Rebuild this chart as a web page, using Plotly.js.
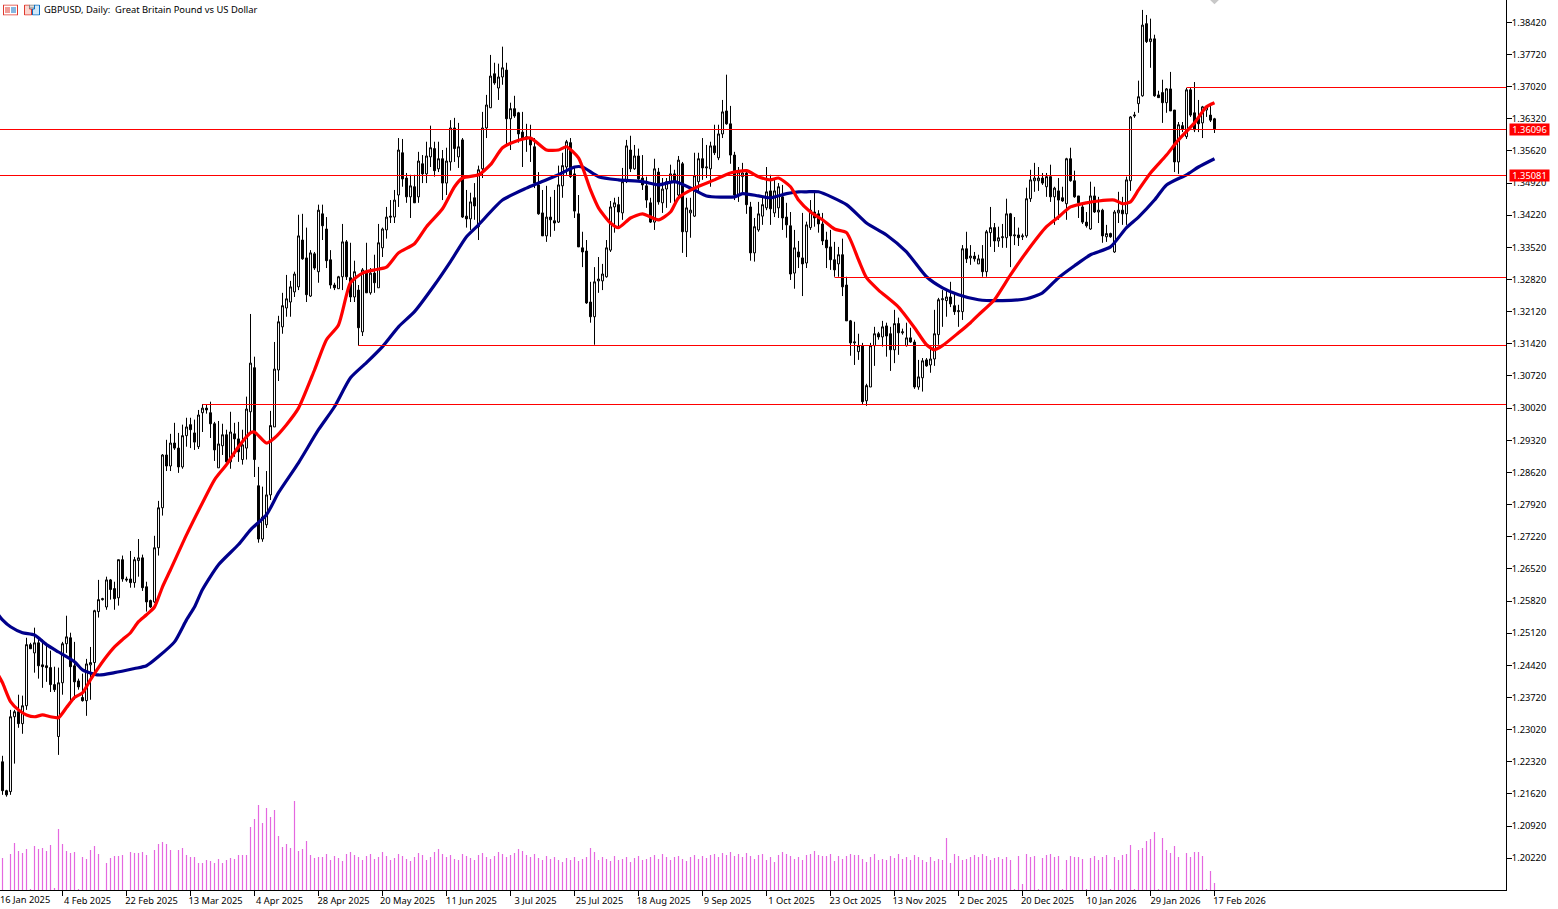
<!DOCTYPE html>
<html>
<head>
<meta charset="utf-8">
<title>GBPUSD Daily</title>
<script src="https://cdn.plot.ly/plotly-3.0.1.min.js"></script>
<style>
  html, body { margin: 0; padding: 0; background: #fff; overflow: hidden; }
  #chart { width: 1558px; height: 909px; }
</style>
</head>
<body>
<div id="chart"></div>
<script>
// daily bars, oldest first
const opens = [
  1.2232,1.2169,1.2167,1.2330,1.2341,1.2315,1.2354,1.2487,1.2469,1.2491,
  1.2443,1.2441,1.2437,1.2400,1.2287,1.2404,1.2489,1.2502,1.2441,1.2408,
  1.2372,1.2365,1.2443,1.2448,1.2559,1.2585,1.2569,1.2628,1.2609,1.2589,
  1.2672,1.2630,1.2630,1.2622,1.2670,1.2676,1.2613,1.2583,1.2580,1.2698,
  1.2785,1.2900,1.2876,1.2926,1.2915,1.2874,1.2942,1.2966,1.2948,1.2918,
  1.2992,1.3002,1.2992,1.2968,1.2872,1.2920,1.2944,1.2885,1.2946,1.2935,
  1.2890,1.2915,1.2994,1.3090,1.2833,1.2717,1.2748,1.2813,1.2961,1.3085,
  1.3179,1.3220,1.3233,1.3255,1.3266,1.3368,1.3329,1.3246,1.3338,1.3299,
  1.3425,1.3392,1.3325,1.3270,1.3262,1.3288,1.3364,1.3286,1.3244,1.3259,
  1.3168,1.3296,1.3253,1.3296,1.3264,1.3351,1.3390,1.3420,1.3418,1.3466,
  1.3558,1.3503,1.3462,1.3484,1.3462,1.3534,1.3512,1.3549,1.3567,1.3523,
  1.3545,1.3492,1.3538,1.3612,1.3549,1.3586,1.3420,1.3414,1.3460,1.3397,
  1.3523,1.3612,1.3656,1.3730,1.3699,1.3723,1.3738,1.3632,1.3654,1.3645,
  1.3603,1.3593,1.3590,1.3571,1.3488,1.3427,1.3377,1.3418,1.3410,1.3407,
  1.3486,1.3527,1.3580,1.3512,1.3425,1.3351,1.3344,1.3233,1.3201,1.3279,
  1.3279,1.3288,1.3346,1.3440,1.3445,1.3427,1.3495,1.3564,1.3523,1.3551,
  1.3503,1.3486,1.3449,1.3407,1.3516,1.3449,1.3479,1.3495,1.3512,1.3466,
  1.3534,1.3386,1.3427,1.3420,1.3495,1.3545,1.3525,1.3523,1.3573,1.3547,
  1.3599,1.3649,1.3621,1.3553,1.3466,1.3506,1.3514,1.3440,1.3340,1.3390,
  1.3420,1.3438,1.3475,1.3427,1.3438,1.3462,1.3418,1.3399,1.3296,1.3342,
  1.3329,1.3318,1.3395,1.3429,1.3425,1.3403,1.3368,1.3353,1.3325,1.3316,
  1.3336,1.3270,1.3192,1.3144,1.3125,1.3138,1.3018,1.3048,1.3138,1.3164,
  1.3157,1.3181,1.3164,1.3129,1.3186,1.3166,1.3138,1.3155,1.3146,1.3048,
  1.3068,1.3107,1.3096,1.3109,1.3162,1.3238,1.3236,1.3244,1.3225,1.3212,
  1.3212,1.3349,1.3329,1.3333,1.3316,1.3327,1.3299,1.3384,1.3395,1.3366,
  1.3373,1.3373,1.3425,1.3377,1.3379,1.3375,1.3377,1.3458,1.3497,1.3497,
  1.3503,1.3484,1.3506,1.3462,1.3475,1.3460,1.3447,1.3545,1.3497,1.3464,
  1.3440,1.3407,1.3392,1.3464,1.3429,1.3433,1.3375,1.3382,1.3342,1.3427,
  1.3433,1.3425,1.3497,1.3638,1.3665,1.3682,1.3839,1.3800,1.3806,1.3684,
  1.3689,1.3667,1.3697,1.3651,1.3538,1.3617,1.3593,1.3695,1.3645,1.3634,
  1.3623,1.3651,1.3640,1.3632
];
const highs = [
  1.2245,1.2171,1.2345,1.2345,1.2378,1.2376,1.2502,1.2491,1.2524,1.2502,
  1.2498,1.2491,1.2474,1.2439,1.2437,1.2493,1.2550,1.2513,1.2493,1.2413,
  1.2424,1.2456,1.2482,1.2563,1.2628,1.2589,1.2635,1.2630,1.2624,1.2672,
  1.2681,1.2635,1.2691,1.2678,1.2717,1.2683,1.2624,1.2585,1.2724,1.2800,
  1.2902,1.2933,1.2946,1.2970,1.2948,1.2966,1.2981,1.2981,1.2977,1.2998,
  1.3011,1.3011,1.3016,1.2972,1.2974,1.2968,1.2955,1.2994,1.2970,1.2972,
  1.2955,1.3027,1.3207,1.3114,1.2874,1.2831,1.2865,1.2996,1.3146,1.3203,
  1.3253,1.3292,1.3279,1.3299,1.3423,1.3425,1.3395,1.3346,1.3342,1.3445,
  1.3445,1.3418,1.3346,1.3275,1.3290,1.3403,1.3368,1.3362,1.3323,1.3270,
  1.3307,1.3362,1.3307,1.3336,1.3403,1.3395,1.3440,1.3455,1.3477,1.3590,
  1.3588,1.3514,1.3510,1.3510,1.3560,1.3553,1.3582,1.3617,1.3582,1.3582,
  1.3564,1.3569,1.3629,1.3634,1.3623,1.3590,1.3477,1.3471,1.3492,1.3530,
  1.3647,1.3684,1.3771,1.3754,1.3752,1.3789,1.3754,1.3667,1.3682,1.3647,
  1.3647,1.3621,1.3619,1.3590,1.3516,1.3477,1.3486,1.3462,1.3477,1.3530,
  1.3558,1.3586,1.3590,1.3527,1.3466,1.3386,1.3368,1.3277,1.3309,1.3331,
  1.3316,1.3368,1.3453,1.3460,1.3462,1.3525,1.3586,1.3595,1.3575,1.3567,
  1.3553,1.3506,1.3460,1.3545,1.3525,1.3503,1.3503,1.3532,1.3521,1.3551,
  1.3538,1.3460,1.3460,1.3558,1.3558,1.3590,1.3575,1.3582,1.3619,1.3619,
  1.3673,1.3728,1.3660,1.3560,1.3527,1.3536,1.3521,1.3451,1.3416,1.3451,
  1.3462,1.3527,1.3510,1.3503,1.3492,1.3488,1.3449,1.3429,1.3390,1.3366,
  1.3427,1.3408,1.3455,1.3471,1.3433,1.3427,1.3386,1.3390,1.3364,1.3353,
  1.3371,1.3288,1.3194,1.3190,1.3164,1.3144,1.3055,1.3144,1.3179,1.3168,
  1.3192,1.3188,1.3179,1.3216,1.3199,1.3175,1.3188,1.3177,1.3151,1.3107,
  1.3111,1.3111,1.3133,1.3216,1.3242,1.3259,1.3259,1.3277,1.3253,1.3227,
  1.3357,1.3386,1.3357,1.3342,1.3336,1.3357,1.3390,1.3440,1.3405,1.3397,
  1.3403,1.3458,1.3427,1.3418,1.3395,1.3382,1.3482,1.3521,1.3536,1.3527,
  1.3514,1.3514,1.3532,1.3484,1.3503,1.3484,1.3547,1.3569,1.3519,1.3464,
  1.3445,1.3429,1.3495,1.3484,1.3462,1.3436,1.3401,1.3384,1.3433,1.3473,
  1.3462,1.3506,1.3638,1.3647,1.3715,1.3869,1.3858,1.3850,1.3815,1.3693,
  1.3717,1.3699,1.3734,1.3651,1.3625,1.3625,1.3699,1.3699,1.3712,1.3673,
  1.3660,1.3660,1.3662,1.3634
];
const lows = [
  1.2160,1.2156,1.2160,1.2228,1.2306,1.2293,1.2345,1.2478,1.2426,1.2413,
  1.2393,1.2406,1.2384,1.2384,1.2247,1.2378,1.2469,1.2363,1.2367,1.2389,
  1.2363,1.2332,1.2367,1.2426,1.2546,1.2583,1.2563,1.2585,1.2563,1.2572,
  1.2624,1.2624,1.2611,1.2611,1.2635,1.2604,1.2559,1.2567,1.2578,1.2681,
  1.2768,1.2865,1.2865,1.2911,1.2861,1.2870,1.2918,1.2915,1.2911,1.2913,
  1.2950,1.2990,1.2937,1.2887,1.2872,1.2900,1.2879,1.2870,1.2896,1.2885,
  1.2879,1.2890,1.2948,1.2852,1.2709,1.2711,1.2741,1.2802,1.2961,1.3061,
  1.3164,1.3201,1.3201,1.3244,1.3259,1.3325,1.3233,1.3244,1.3303,1.3275,
  1.3368,1.3307,1.3262,1.3259,1.3262,1.3259,1.3281,1.3233,1.3233,1.3138,
  1.3159,1.3253,1.3249,1.3253,1.3264,1.3331,1.3371,1.3405,1.3405,1.3440,
  1.3484,1.3449,1.3416,1.3449,1.3449,1.3492,1.3492,1.3527,1.3506,1.3516,
  1.3455,1.3466,1.3519,1.3538,1.3525,1.3416,1.3395,1.3390,1.3412,1.3368,
  1.3503,1.3590,1.3656,1.3706,1.3673,1.3706,1.3575,1.3564,1.3634,1.3580,
  1.3527,1.3560,1.3538,1.3481,1.3423,1.3377,1.3364,1.3375,1.3388,1.3405,
  1.3460,1.3510,1.3503,1.3416,1.3353,1.3309,1.3229,1.3188,1.3140,1.3253,
  1.3259,1.3286,1.3342,1.3384,1.3397,1.3412,1.3492,1.3516,1.3521,1.3499,
  1.3477,1.3438,1.3405,1.3390,1.3445,1.3427,1.3438,1.3449,1.3445,1.3455,
  1.3340,1.3331,1.3373,1.3418,1.3473,1.3499,1.3503,1.3484,1.3553,1.3542,
  1.3590,1.3619,1.3534,1.3455,1.3451,1.3466,1.3425,1.3323,1.3321,1.3386,
  1.3401,1.3433,1.3401,1.3418,1.3416,1.3390,1.3373,1.3281,1.3262,1.3307,
  1.3246,1.3307,1.3390,1.3397,1.3384,1.3357,1.3307,1.3303,1.3288,1.3288,
  1.3246,1.3192,1.3116,1.3096,1.3107,1.3011,1.3007,1.3048,1.3094,1.3151,
  1.3136,1.3114,1.3083,1.3100,1.3118,1.3162,1.3136,1.3144,1.3044,1.3042,
  1.3038,1.3092,1.3079,1.3094,1.3140,1.3179,1.3201,1.3222,1.3205,1.3179,
  1.3194,1.3318,1.3314,1.3321,1.3316,1.3288,1.3288,1.3353,1.3342,1.3353,
  1.3351,1.3351,1.3309,1.3357,1.3355,1.3368,1.3373,1.3451,1.3473,1.3475,
  1.3488,1.3462,1.3451,1.3401,1.3412,1.3451,1.3412,1.3495,1.3460,1.3416,
  1.3403,1.3395,1.3390,1.3427,1.3405,1.3362,1.3364,1.3373,1.3340,1.3405,
  1.3401,1.3401,1.3475,1.3634,1.3645,1.3680,1.3797,1.3743,1.3680,1.3678,
  1.3623,1.3645,1.3649,1.3516,1.3512,1.3603,1.3588,1.3636,1.3603,1.3603,
  1.3590,1.3636,1.3625,1.3601
];
const closes = [
  1.2169,1.2160,1.2330,1.2341,1.2315,1.2354,1.2487,1.2478,1.2491,1.2441,
  1.2439,1.2437,1.2400,1.2389,1.2404,1.2489,1.2504,1.2439,1.2406,1.2395,
  1.2365,1.2445,1.2448,1.2561,1.2585,1.2587,1.2628,1.2607,1.2587,1.2672,
  1.2630,1.2628,1.2622,1.2672,1.2676,1.2611,1.2580,1.2569,1.2698,1.2785,
  1.2900,1.2876,1.2926,1.2915,1.2874,1.2942,1.2961,1.2955,1.2928,1.2987,
  1.3002,1.2998,1.2968,1.2911,1.2924,1.2944,1.2885,1.2950,1.2935,1.2907,
  1.2922,1.3000,1.3100,1.2890,1.2717,1.2765,1.2813,1.2964,1.3087,1.3190,
  1.3225,1.3240,1.3266,1.3294,1.3377,1.3327,1.3249,1.3340,1.3307,1.3433,
  1.3399,1.3323,1.3270,1.3264,1.3288,1.3364,1.3288,1.3244,1.3299,1.3177,
  1.3303,1.3253,1.3296,1.3275,1.3362,1.3392,1.3418,1.3418,1.3455,1.3564,
  1.3501,1.3462,1.3486,1.3449,1.3540,1.3512,1.3551,1.3569,1.3519,1.3545,
  1.3492,1.3540,1.3612,1.3567,1.3571,1.3418,1.3414,1.3451,1.3442,1.3521,
  1.3612,1.3662,1.3725,1.3710,1.3723,1.3743,1.3632,1.3654,1.3638,1.3599,
  1.3588,1.3588,1.3575,1.3492,1.3425,1.3377,1.3418,1.3412,1.3405,1.3488,
  1.3530,1.3582,1.3506,1.3431,1.3353,1.3342,1.3231,1.3201,1.3277,1.3283,
  1.3294,1.3351,1.3440,1.3449,1.3429,1.3495,1.3573,1.3523,1.3551,1.3501,
  1.3488,1.3455,1.3407,1.3523,1.3451,1.3479,1.3495,1.3512,1.3495,1.3542,
  1.3386,1.3438,1.3433,1.3508,1.3545,1.3525,1.3527,1.3573,1.3558,1.3599,
  1.3647,1.3621,1.3553,1.3466,1.3516,1.3514,1.3445,1.3340,1.3397,1.3425,
  1.3445,1.3473,1.3436,1.3475,1.3484,1.3416,1.3401,1.3294,1.3351,1.3331,
  1.3316,1.3401,1.3433,1.3416,1.3403,1.3366,1.3351,1.3325,1.3303,1.3336,
  1.3266,1.3192,1.3144,1.3146,1.3138,1.3016,1.3051,1.3138,1.3164,1.3157,
  1.3179,1.3159,1.3129,1.3186,1.3166,1.3168,1.3155,1.3146,1.3048,1.3070,
  1.3105,1.3094,1.3109,1.3164,1.3238,1.3240,1.3244,1.3229,1.3212,1.3214,
  1.3349,1.3327,1.3333,1.3327,1.3327,1.3299,1.3386,1.3395,1.3366,1.3373,
  1.3375,1.3425,1.3377,1.3379,1.3373,1.3377,1.3458,1.3499,1.3503,1.3503,
  1.3492,1.3506,1.3462,1.3481,1.3455,1.3453,1.3545,1.3497,1.3462,1.3449,
  1.3407,1.3399,1.3464,1.3429,1.3433,1.3377,1.3382,1.3375,1.3429,1.3433,
  1.3425,1.3499,1.3636,1.3640,1.3680,1.3836,1.3800,1.3806,1.3682,1.3678,
  1.3667,1.3697,1.3649,1.3538,1.3619,1.3610,1.3695,1.3640,1.3608,1.3621,
  1.3658,1.3658,1.3629,1.3610
];
// tick volume, relative units
const volumes = [
  32,0,36,47,39,37,41,1,44,41,42,39,45,2,61,46,39,37,38,1,
  33,31,40,44,36,0,27,32,34,34,35,0,38,37,37,38,35,0,40,46,
  48,46,40,0,40,42,35,33,33,27,27,30,29,27,31,27,30,32,31,35,
  35,35,63,71,85,67,82,73,80,54,43,46,42,89,39,41,49,35,32,33,
  33,36,30,34,32,29,36,38,35,33,30,34,36,31,33,38,34,30,32,36,
  34,31,29,33,37,35,30,33,38,41,36,33,35,31,30,36,34,32,30,35,
  37,33,31,34,38,36,33,35,37,41,39,35,33,36,32,30,34,31,33,30,
  28,32,30,33,29,31,33,42,38,30,33,31,29,34,30,31,33,28,32,34,
  30,31,33,35,31,36,33,30,33,34,31,29,33,35,31,34,32,35,36,33,
  37,35,38,34,36,33,37,34,31,35,36,30,33,28,35,38,36,34,31,33,
  30,35,36,39,35,34,34,36,29,34,31,34,36,35,35,31,28,33,36,30,
  31,30,34,32,36,31,33,30,35,33,30,28,33,29,31,30,52,27,36,34,
  30,31,33,35,33,36,34,30,32,33,31,33,30,1,34,6,36,33,34,1,
  32,35,36,33,34,1,30,34,33,33,31,1,32,34,30,33,35,1,33,30,
  35,36,45,1,40,
  42,49,51,58,1,52,40,37,44,33,0,37,33,38,38,34,1,19,7
];

// moving averages, read at the slots listed
const redSlots = [-1,0,2,4,6,8,10,12,14,16,18,20,22,24,26,28,30,32,34,36,38,40,42,46,50,53,56,59,62,63,66,68,71,74,78,81,84,87,90,93,96,99,103,106,110,113,115,119,122,125,128,132,136,139,141,144,147,149,152,154,157,160,164,167,169,173,178,182,186,189,192,194,197,199,202,205,208,211,214,216,219,224,228,231,233,235,239,242,244,248,252,256,261,264,267,271,274,278,280,282,284,287,291,294,298,301,303];
const redValues = [1.2420,1.2404,1.2363,1.2345,1.2334,1.2330,1.2334,1.2330,1.2328,1.2350,1.2372,1.2382,1.2411,1.2437,1.2461,1.2482,1.2498,1.2513,1.2537,1.2552,1.2569,1.2613,1.2650,1.2726,1.2796,1.2846,1.2879,1.2918,1.2948,1.2950,1.2926,1.2937,1.2966,1.3002,1.3085,1.3151,1.3183,1.3275,1.3296,1.3303,1.3309,1.3340,1.3360,1.3397,1.3436,1.3484,1.3503,1.3510,1.3532,1.3569,1.3582,1.3590,1.3564,1.3564,1.3571,1.3547,1.3477,1.3438,1.3405,1.3395,1.3416,1.3425,1.3412,1.3429,1.3460,1.3481,1.3499,1.3514,1.3519,1.3506,1.3499,1.3503,1.3484,1.3455,1.3429,1.3412,1.3392,1.3384,1.3325,1.3286,1.3259,1.3222,1.3177,1.3140,1.3129,1.3138,1.3166,1.3188,1.3205,1.3238,1.3292,1.3342,1.3397,1.3418,1.3440,1.3449,1.3453,1.3455,1.3447,1.3451,1.3477,1.3514,1.3553,1.3586,1.3623,1.3658,1.3667];
const blueSlots = [-1,0,2,5,8,11,14,18,20,24,28,33,36,39,43,46,48,50,54,59,62,66,69,74,79,83,87,91,95,99,103,108,112,116,119,125,131,134,139,143,145,149,154,160,164,168,173,176,183,185,189,192,196,199,201,204,211,216,221,226,231,235,239,244,250,256,260,264,268,272,277,281,284,288,291,296,299,303];
const blueValues = [1.2552,1.2541,1.2526,1.2513,1.2508,1.2487,1.2471,1.2450,1.2432,1.2421,1.2426,1.2435,1.2441,1.2461,1.2493,1.2541,1.2569,1.2607,1.2661,1.2705,1.2737,1.2770,1.2818,1.2883,1.2955,1.3005,1.3068,1.3101,1.3136,1.3179,1.3212,1.3270,1.3321,1.3375,1.3401,1.3455,1.3481,1.3492,1.3510,1.3527,1.3527,1.3506,1.3499,1.3495,1.3488,1.3495,1.3477,1.3464,1.3462,1.3469,1.3464,1.3460,1.3469,1.3473,1.3473,1.3473,1.3445,1.3405,1.3379,1.3342,1.3288,1.3264,1.3249,1.3238,1.3236,1.3240,1.3253,1.3286,1.3312,1.3336,1.3353,1.3395,1.3418,1.3455,1.3488,1.3510,1.3527,1.3545];

// horizontal levels and the slot where each one starts
const levelPrices = [1.360864, 1.350848, 1.370008, 1.328639, 1.313834, 1.300988];
const levelStarts = [-1, -1, 296, 208, 89, 50];
const tagLabels = ['1.36096', '1.35081'];

const priceTicks = [1.3842,1.3772,1.3702,1.3632,1.3562,1.3492,1.3422,1.3352,1.3282,1.3212,1.3142,1.3072,1.3002,1.2932,1.2862,1.2792,1.2722,1.2652,1.2582,1.2512,1.2442,1.2372,1.2302,1.2232,1.2162,1.2092,1.2022];
const firstDateLabel = '16 Jan 2025';
const dateSlots = [15,31,47,63,79,95,111,127,143,159,175,191,207,223,239,255,271,287,303];
const dateLabels = ['4 Feb 2025','22 Feb 2025','13 Mar 2025','4 Apr 2025','28 Apr 2025','20 May 2025','11 Jun 2025','3 Jul 2025','25 Jul 2025','18 Aug 2025','9 Sep 2025','1 Oct 2025','23 Oct 2025','13 Nov 2025','2 Dec 2025','20 Dec 2025','10 Jan 2026','29 Jan 2026','17 Feb 2026'];

const slots = opens.map((_, i) => i);
const FONT = 'Noto Sans, sans-serif';
const FONT_SIZE = 9.3;

const icon1 = 'data:image/svg+xml,' + encodeURIComponent('<svg xmlns="http://www.w3.org/2000/svg" width="15" height="11"><rect x=".5" y=".5" width="14" height="10" fill="#fff" stroke="#e0392e"/><path d="M2 3.500h5M2 5.500h5M2 7.500h5" stroke="#e0392e"/><path d="M8 3.500h5M8 5.500h5M8 7.500h5" stroke="#0a6fc2"/></svg>');
const icon2 = 'data:image/svg+xml,' + encodeURIComponent('<svg xmlns="http://www.w3.org/2000/svg" width="16" height="11"><path d="M.5.500h5v4h2v6h-7z" fill="#fbd5cf" stroke="#e0392e"/><rect x="5.500" y=".5" width="5" height="3" fill="#ddd" stroke="#888"/><path d="M10.500 .5h5v10h-7v-6h2z" fill="#d2e8f8" stroke="#0a6fc2"/></svg>');

const traces = [
  {
    type: 'bar', x: slots, y: volumes, yaxis: 'y2', width: 0.3,
    marker: { color: '#E468E0', line: { width: 0 } }, hoverinfo: 'skip'
  },
  {
    type: 'candlestick', x: slots, open: opens, high: highs, low: lows, close: closes,
    whiskerwidth: 0, hoverinfo: 'skip',
    increasing: { line: { color: '#000', width: 1 }, fillcolor: '#fff' },
    decreasing: { line: { color: '#000', width: 1 }, fillcolor: '#000' }
  },
  {
    type: 'scatter', mode: 'lines', x: blueSlots, y: blueValues, hoverinfo: 'skip',
    line: { color: '#00008B', width: 3.2, shape: 'spline', smoothing: 0.6 }
  },
  {
    type: 'scatter', mode: 'lines', x: redSlots, y: redValues, hoverinfo: 'skip',
    line: { color: '#FF0000', width: 3.2, shape: 'spline', smoothing: 0.6 }
  },
  {
    type: 'scatter', mode: 'markers', x: [303], y: [1.3891], hoverinfo: 'skip',
    marker: { symbol: 'diamond', color: '#C8C8C8', size: 7 }
  }
];

const layout = {
  width: 1558, height: 909,
  margin: { l: 0, r: 52, t: 0, b: 19, pad: 0 },
  paper_bgcolor: '#fff', plot_bgcolor: '#fff',
  showlegend: false,
  font: { family: FONT, size: FONT_SIZE, color: '#000' },
  title: {
    text: 'GBPUSD, Daily:  Great Britain Pound vs US Dollar',
    x: 44 / 1558, xanchor: 'left', y: 1 - 9.5 / 909, yanchor: 'middle',
    font: { family: FONT, size: 9.4, color: '#000' }
  },
  xaxis: {
    range: [-0.625, 375.875], fixedrange: true, showgrid: false, zeroline: false,
    rangeslider: { visible: false },
    tickmode: 'array', tickvals: dateSlots, ticktext: dateLabels,
    ticks: 'outside', ticklen: 5, tickcolor: '#000', tickwidth: 1,
    ticklabelshift: 25, ticklabelstandoff: -3, tickangle: 0,
    showline: true, linecolor: '#000', linewidth: 1,
    tickfont: { family: FONT, size: FONT_SIZE, color: '#000' }
  },
  yaxis: {
    side: 'right', range: [1.19528, 1.38906], fixedrange: true, showgrid: false, zeroline: false,
    tickmode: 'array', tickvals: priceTicks, ticktext: priceTicks.map(v => v.toFixed(5)),
    ticks: 'outside', ticklen: 5, tickcolor: '#000', tickwidth: 1, ticklabelstandoff: -2,
    showline: true, linecolor: '#000', linewidth: 1,
    tickfont: { family: FONT, size: FONT_SIZE, color: '#000' }
  },
  yaxis2: {
    overlaying: 'y', side: 'left', range: [0, 890], fixedrange: true,
    showgrid: false, zeroline: false, showticklabels: false, ticks: '', showline: false
  },
  shapes: levelPrices.map((p, i) => ({
    type: 'line', xref: 'x', yref: 'y', x0: levelStarts[i], x1: 376, y0: p, y1: p,
    line: { color: '#FF0000', width: 1 }
  })),
  annotations: tagLabels.map((t, i) => ({
    xref: 'paper', yref: 'y', x: 1509 / 1506, y: levelPrices[i], xanchor: 'left', yanchor: 'middle',
    text: t, showarrow: false, bgcolor: '#FF0000', borderpad: 0,
    width: 39, height: 11, align: 'center',
    font: { family: FONT, size: FONT_SIZE, color: '#fff' }
  })).concat([{
    xref: 'paper', yref: 'paper', x: -1.5 / 1506, y: -9.5 / 890, xanchor: 'left', yanchor: 'middle',
    text: firstDateLabel, showarrow: false, borderpad: 0,
    font: { family: FONT, size: FONT_SIZE, color: '#000' }
  }]),
  images: [
    { source: icon1, xref: 'paper', yref: 'paper', x: 3 / 1506, y: 1 - 4.5 / 890, sizex: 15 / 1506, sizey: 11 / 890, sizing: 'stretch', xanchor: 'left', yanchor: 'top', layer: 'above' },
    { source: icon2, xref: 'paper', yref: 'paper', x: 24 / 1506, y: 1 - 4.5 / 890, sizex: 16 / 1506, sizey: 11 / 890, sizing: 'stretch', xanchor: 'left', yanchor: 'top', layer: 'above' }
  ]
};

Plotly.newPlot('chart', traces, layout, { displayModeBar: false, staticPlot: true });
</script>
</body>
</html>
